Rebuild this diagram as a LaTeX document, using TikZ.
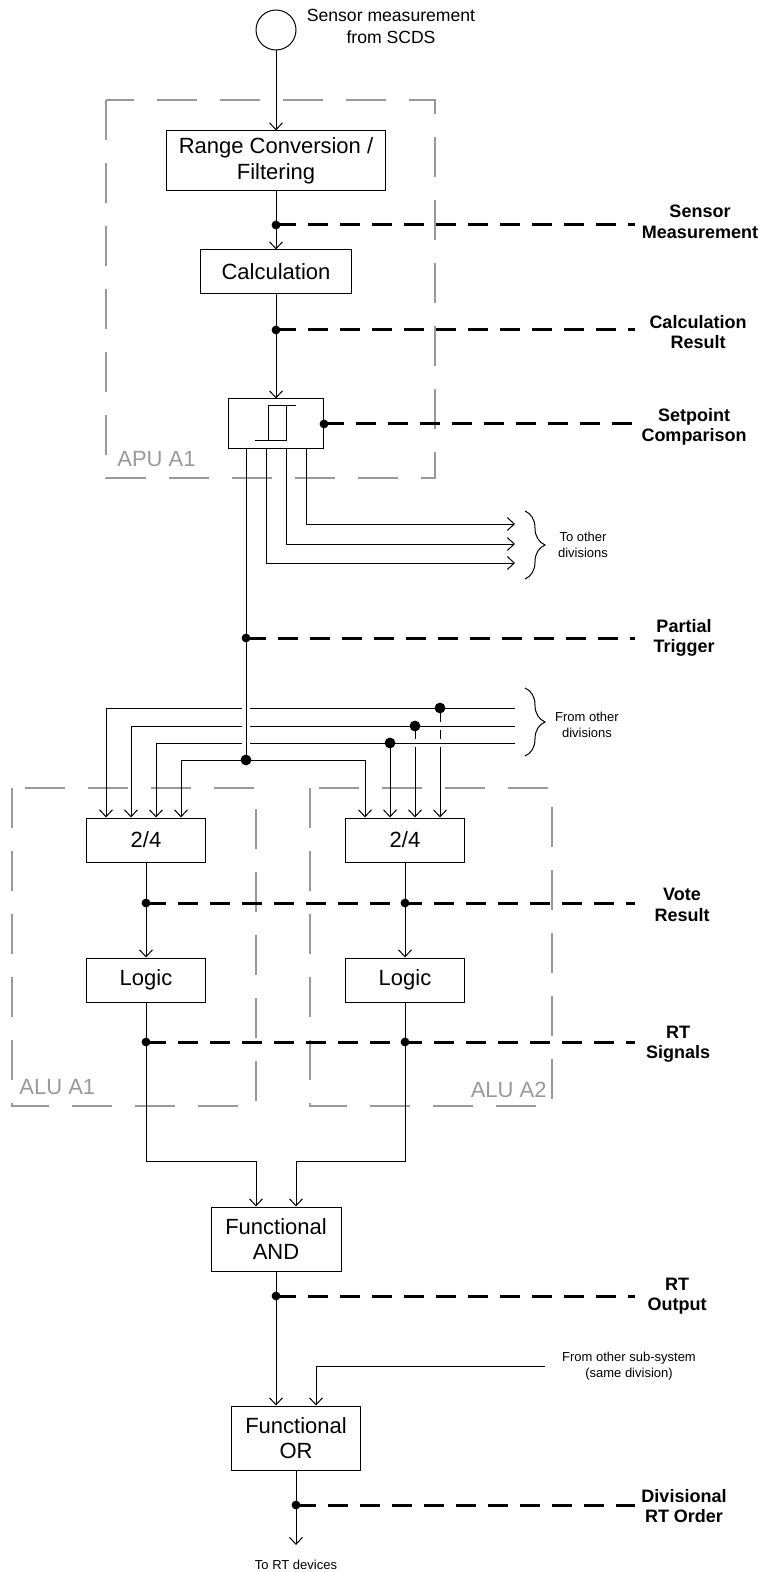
\documentclass[tikz,border=0pt]{standalone}
\usepackage{fontspec}
\setmainfont{Liberation Sans}
\usetikzlibrary{arrows.meta, calc, decorations.pathreplacing}

\begin{document}
\begin{tikzpicture}[x=0.5pt, y=-0.5pt,
    wire/.style={line width=0.5pt, draw=black},
    arr/.style={wire, -{Straight Barb[length=3.5pt, width=6.5pt]}},
    block/.style={draw, line width=0.5pt, inner sep=0pt, align=center,
      font=\fontsize{11}{12.8}\selectfont},
    tap/.style={line width=1.5pt, dash pattern=on 10pt off 6pt},
    zone/.style={draw=gray!80, line width=1.3pt, dash pattern=on 20pt off 11.5pt},
    zonelabel/.style={text=gray!80, inner sep=0pt, font=\fontsize{11}{13}\selectfont},
    sig/.style={align=center, inner sep=0pt, font=\bfseries\fontsize{9}{10.2}\selectfont},
    note/.style={align=center, inner sep=0pt, font=\fontsize{6.5}{8}\selectfont},
    gap/.style={draw=white, line width=4pt},
    brace/.style={wire, decorate, decoration={brace, amplitude=10pt}}
]
\useasboundingbox (0,0) rectangle (761,1572);

\draw[zone] (106,100) rectangle (435,478);
\draw[zone] (12,788) rectangle (256,1106);
\draw[zone] (310,788) rectangle (552,1106);
\node[zonelabel, anchor=west] (apu) at (117,459) {APU A1};
\node[zonelabel, anchor=west] (alu1) at (19,1087) {ALU A1};
\node[zonelabel, anchor=east] (alu2) at (547,1090) {ALU A2};

\node[circle, draw, line width=0.5pt, minimum size=20pt, inner sep=0pt] (src) at (276,30) {};
\node[align=center, inner sep=0pt, font=\fontsize{8.8}{11}\selectfont] (srclbl) at (391,26)
  {Sensor measurement\\from SCDS};
\node[block, minimum width=109.5pt, minimum height=30pt] (range) at (276,161) {Range Conversion /\\Filtering};
\node[block, minimum width=75.5pt, minimum height=22pt] (calc) at (276,272) {Calculation};
\node[block, minimum width=47.5pt, minimum height=25pt] (setpt) at (276,424) {};
\node[block, minimum width=59.5pt, minimum height=22pt] (vote1) at (146,840) {2/4};
\node[block, minimum width=59.5pt, minimum height=22pt] (vote2) at (405,840) {2/4};
\node[block, minimum width=59.5pt, minimum height=22pt] (logic1) at (146,980) {Logic};
\node[block, minimum width=59.5pt, minimum height=22pt] (logic2) at (405,980) {Logic};
\node[block, minimum width=65pt, minimum height=32pt] (fAND) at (276,1239) {Functional\\AND};
\node[block, minimum width=64.5pt, minimum height=32pt] (fOR) at (296,1438) {Functional\\OR};

\draw[wire] ($(setpt)+(-21,17)$) -- ++(31,0) -- ++(0,-35);
\draw[wire] ($(setpt)+(-8,17)$) -- ++(0,-35) -- ++(28,0);

\node[sig] (lSens) at (700,222) {Sensor\\Measurement};
\node[sig] (lCalc) at (698,332) {Calculation\\Result};
\node[sig] (lSet) at (694,427) {Setpoint\\Comparison};
\node[sig] (lPart) at (684,638) {Partial\\Trigger};
\node[sig] (lVote) at (682,905) {Vote\\Result};
\node[sig] (lSig) at (678,1044) {RT\\Signals};
\node[sig] (lOut) at (677,1296) {RT\\Output};
\node[sig] (lDiv) at (684,1506) {Divisional\\RT Order};

\coordinate (xEnd) at (635,0);
\coordinate (tSens) at (276,225);
\coordinate (tCalc) at (276,330);
\coordinate (tPart) at (246,638);
\coordinate (tVote) at (146,903);
\coordinate (tVote2) at (405,903);
\coordinate (tSig) at (146,1042);
\coordinate (tSig2) at (405,1042);
\coordinate (tOut) at (276,1296);
\coordinate (tDiv) at (296,1505);

\draw[arr] (src) -- (range);
\draw[arr] (range) -- (calc);
\draw[arr] (calc) -- (setpt);

\coordinate (oA) at (515,524);
\coordinate (oB) at (515,544);
\coordinate (oC) at (515,563);
\draw[arr] ($(setpt.south)+(30,0)$) |- (oA);
\draw[arr] ($(setpt.south)+(10,0)$) |- (oB);
\draw[arr] ($(setpt.south)+(-10,0)$) |- (oC);
\draw[brace] (525,511) -- (525,579);
\node[note] (toOther) at (583,545) {To other\\divisions};

\coordinate (hA) at (515,708);
\coordinate (hB) at (515,726);
\coordinate (hC) at (515,743);
\coordinate (dA) at (440,708);
\coordinate (dB) at (415,726);
\coordinate (dC) at (390,743);
\coordinate (tJoin) at (246,760);
\draw[brace] (525,688) -- (525,756);
\node[note] (fromOther) at (587,725) {From other\\divisions};

\draw[arr] (dA) -- ($(vote2.north)+(35,0)$);
\draw[arr] (dB) -- ($(vote2.north)+(10,0)$);
\draw[arr] (dC) -- ($(vote2.north)+(-15,0)$);
\draw[gap] (hB) -- (dB);
\draw[gap] (hC) -- (dC);
\draw[arr] (hA) -| ($(vote1.north)+(-40,0)$);
\draw[arr] (hB) -| ($(vote1.north)+(-15,0)$);
\draw[arr] (hC) -| ($(vote1.north)+(10,0)$);
\draw[gap] ($(tJoin)+(0,-57)$) -- ($(tJoin)+(0,-12)$);
\draw[wire] ($(setpt.south)+(-30,0)$) -- (tJoin);
\draw[arr] (tJoin) -| ($(vote1.north)+(35,0)$);
\draw[arr] (tJoin) -| ($(vote2.north)+(-40,0)$);

\draw[arr] (vote1) -- (logic1);
\draw[arr] (vote2) -- (logic2);
\draw[arr] (logic1.south) -- ++(0,159) -| ($(fAND.north)+(-20,0)$);
\draw[arr] (logic2.south) -- ++(0,159) -| ($(fAND.north)+(20,0)$);
\draw[arr] (fAND.south) -- ($(fOR.north)+(-20,0)$);
\coordinate (subsys) at (545,1366);
\draw[arr] (subsys) -| ($(fOR.north)+(20,0)$);
\node[note] (subsysLbl) at (629,1366) {From other sub-system\\(same division)};
\coordinate (rtDev) at (296,1545);
\draw[arr] (fOR.south) -- (rtDev);
\node[note] (rtDevLbl) at (296,1565) {To RT devices};

\draw[tap] (tSens) -- (tSens -| xEnd);
\draw[tap] (tCalc) -- (tCalc -| xEnd);
\draw[tap] (setpt.east) -- (setpt.east -| xEnd);
\draw[tap] (tPart) -- (tPart -| xEnd);
\draw[tap] (tVote) -- (tVote -| xEnd);
\draw[tap] (tSig) -- (tSig -| xEnd);
\draw[tap] (tOut) -- (tOut -| xEnd);
\draw[tap] (tDiv) -- (tDiv -| xEnd);
\foreach \p in {tSens, tCalc, setpt.east, tPart, tVote, tVote2, tSig, tSig2, tOut, tDiv}
  \fill (\p) circle[radius=2.2pt];
\foreach \p in {dA, dB, dC, tJoin}
  \fill (\p) circle[radius=2.7pt];
\end{tikzpicture}
\end{document}
